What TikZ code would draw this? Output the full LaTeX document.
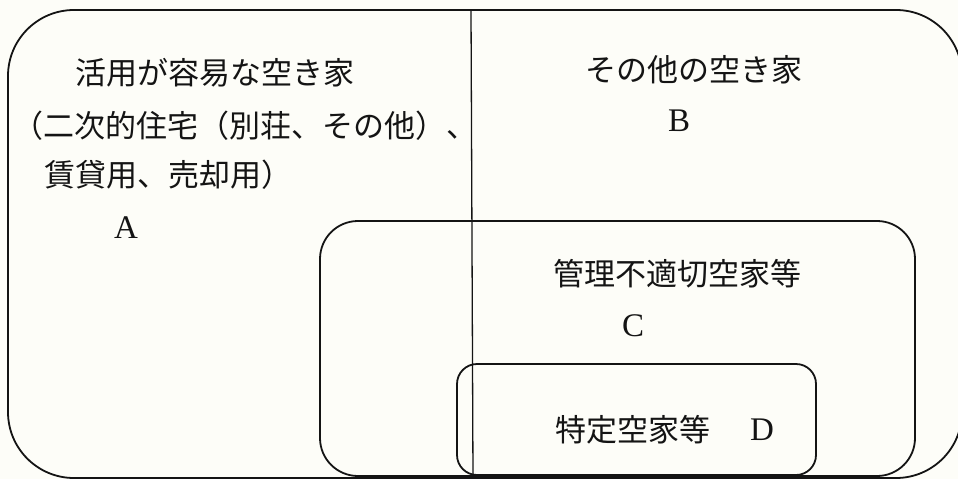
\documentclass[tikz,border=0pt]{standalone}
\usepackage{fontspec}
\newfontfamily\cjk{Noto Sans CJK JP}
\newfontfamily\latin{Liberation Serif}
\definecolor{paper}{RGB}{253,253,248}
\definecolor{ink}{RGB}{20,20,20}
\begin{document}
\begin{tikzpicture}[x=1pt,y=-1pt,
  boxline/.style={draw=ink,line width=1.8pt},
  divline/.style={draw=ink,line width=1.3pt},
  jtext/.style={inner sep=0pt,anchor=west,text=ink,font=\cjk\fontsize{31}{36}\selectfont},
  ltext/.style={inner sep=0pt,text=ink,font=\latin\fontsize{33}{36}\selectfont}]
\useasboundingbox[fill=paper] (0,0) rectangle (958,479);
% outer region
\draw[boxline,rounded corners=66pt] (8,10) rectangle (962,478);
% divider between A and B
\coordinate (vtop) at (471,10);
\coordinate (vbot) at (473,478);
\draw[divline] (vtop) -- (vbot);
% C region
\draw[boxline,rounded corners=38pt] (320,221) rectangle (915,476);
% D region
\draw[boxline,rounded corners=20pt] (457,364) rectangle (816,475);
% texts
\node[jtext] (t1) at (75,73) {活用が容易な空き家};
\node[jtext] (t2) at (12,126) {（二次的住宅（別荘、その他）、};
\node[jtext] (t3) at (44,175) {賃貸用、売却用）};
\node[ltext] (la) at (126,228) {A};
\node[jtext] (t4) at (585,70) {その他の空き家};
\node[ltext] (lb) at (679,121) {B};
\node[jtext] (t5) at (553,274) {管理不適切空家等};
\node[ltext] (lc) at (633,326) {C};
\node[jtext] (t6) at (555,430) {特定空家等};
\node[ltext] (ld) at (762,430) {D};
\end{tikzpicture}
\end{document}
